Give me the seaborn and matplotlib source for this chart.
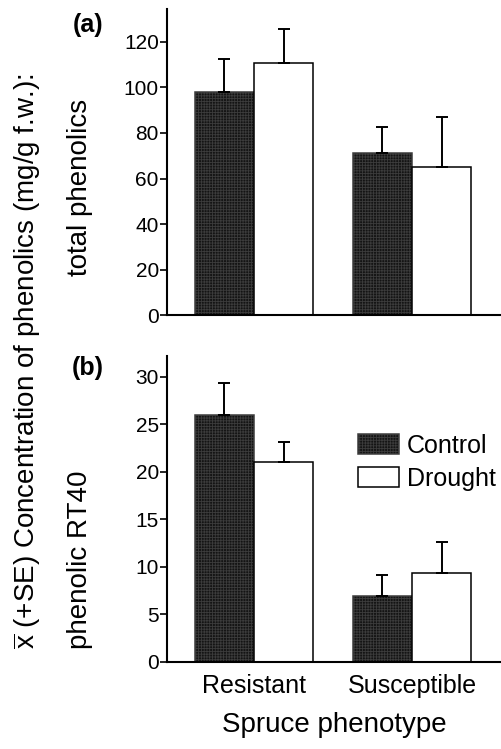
import pandas as pd
import matplotlib.pyplot as plt
import seaborn as sns

sns.set_theme(style="ticks")
plt.rcParams["font.family"] = ["Liberation Sans", "DejaVu Sans"]
plt.rcParams["mathtext.fontset"] = "custom"
plt.rcParams["mathtext.rm"] = "Liberation Sans"
plt.rcParams.update({"text.color": "black", "axes.labelcolor": "black", "axes.edgecolor": "black",
                     "xtick.color": "black", "ytick.color": "black", "hatch.linewidth": 0.6})

# data
phenotypes = ["Resistant", "Susceptible"]
treatments = ["Control", "Drought"]

total_control = [98.0, 71.3]
total_control_se = [14.5, 11.3]
total_drought = [110.8, 64.9]
total_drought_se = [14.9, 22.0]

rt40_control = [26.0, 6.9]
rt40_control_se = [3.4, 2.25]
rt40_drought = [21.0, 9.33]
rt40_drought_se = [2.1, 3.3]

colores = {"Control": "#141414", "Drought": "white"}
STIPPLE = "++++++"
STIPPLE_COLOR = "#3c3c3c"


def armar_df(control, control_se, drought, drought_se):
    filas = []
    for i, fen in enumerate(phenotypes):
        filas.append({"Phenotype": fen, "Treatment": "Control", "value": control[i], "se": control_se[i]})
    for i, fen in enumerate(phenotypes):
        filas.append({"Phenotype": fen, "Treatment": "Drought", "value": drought[i], "se": drought_se[i]})
    return pd.DataFrame(filas)


def panel(ax, df, ylim, yticks, legend=False):
    sns.barplot(data=df, x="Phenotype", y="value", hue="Treatment", order=phenotypes,
                hue_order=treatments, palette=colores, edgecolor="black", linewidth=1.1,
                width=0.75, errorbar=None, legend=legend, ax=ax)
    # upper-only error bars, placed on the bars seaborn drew
    for cont, trat in zip(ax.containers, treatments):
        sub = df[df["Treatment"] == trat].set_index("Phenotype").loc[phenotypes]
        xs = [b.get_x() + b.get_width() / 2 for b in cont]
        ys = [b.get_height() for b in cont]
        if trat == "Control":
            for b in cont:
                b.set_hatch(STIPPLE)
                b.set_edgecolor(STIPPLE_COLOR)
        ax.errorbar(xs, ys, yerr=[[0] * len(xs), sub["se"].values], fmt="none",
                    ecolor="black", elinewidth=1.4, capsize=4.5, capthick=1.4, zorder=3)
    ax.set_xlim(-0.55, 1.563)
    ax.set_ylim(*ylim)
    ax.set_yticks(yticks)
    ax.set_xlabel("")
    ax.set_ylabel("")
    sns.despine(ax=ax)
    for s in ["left", "bottom"]:
        ax.spines[s].set_linewidth(1.5)
        ax.spines[s].set_zorder(4)
    ax.tick_params(axis="y", length=5, width=1.2, pad=1, labelsize=15)
    ax.tick_params(axis="x", length=0, pad=9, labelsize=18)


fig = plt.figure(figsize=(5.02, 7.49), dpi=100)
ax_a = fig.add_axes([0.333, 0.5794, 0.665, 0.4086])
ax_b = fig.add_axes([0.333, 0.1162, 0.665, 0.4085])

df_a = armar_df(total_control, total_control_se, total_drought, total_drought_se)
df_b = armar_df(rt40_control, rt40_control_se, rt40_drought, rt40_drought_se)

panel(ax_a, df_a, (0, 134.5), range(0, 121, 20))
ax_a.set_xticklabels([])
panel(ax_b, df_b, (0, 32.2), range(0, 31, 5), legend=True)
ax_b.set_xlabel("Spruce phenotype", fontsize=20, labelpad=9.5)

leg = ax_b.legend(loc="upper left", bbox_to_anchor=(358 / 502, 1 - 434 / 749),
                  bbox_transform=fig.transFigure, frameon=False, fontsize=18,
                  handlelength=1.64, handleheight=0.87, handletextpad=0.32,
                  labelspacing=0.36, borderpad=0, borderaxespad=0)
leg_patches = leg.get_patches()
leg_patches[0].set_hatch(STIPPLE)
leg_patches[0].set_edgecolor(STIPPLE_COLOR)
leg_patches[1].set_edgecolor("black")

fig.text(0.175, 0.967, "(a)", fontsize=18, fontweight="bold", ha="center", va="center")
fig.text(0.175, 0.509, "(b)", fontsize=18, fontweight="bold", ha="center", va="center")
fig.text(0.159, 0.750, "total phenolics", fontsize=20, rotation=90, ha="center", va="center")
fig.text(0.159, 0.2523, "phenolic RT40", fontsize=20, rotation=90, ha="center", va="center")
fig.text(0.054, 0.518, r"$\overline{\mathrm{x}}$ (+SE) Concentration of phenolics (mg/g f.w.):",
         fontsize=20, rotation=90, ha="center", va="center")

fig.savefig("out.png", dpi=100)
